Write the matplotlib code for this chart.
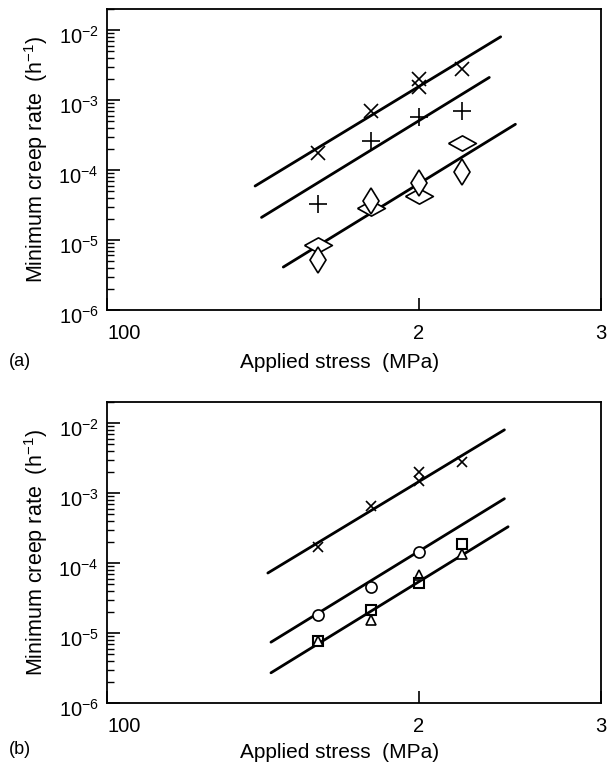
import numpy as np
import matplotlib
matplotlib.use("Agg")
import matplotlib.pyplot as plt
import matplotlib.transforms as mtransforms
from matplotlib.ticker import LogLocator, NullFormatter, NullLocator

plt.rcParams['font.family'] = ['Liberation Sans', 'DejaVu Sans']
plt.rcParams['mathtext.fontset'] = 'custom'
plt.rcParams['mathtext.rm'] = 'Liberation Sans'
plt.rcParams['mathtext.it'] = 'Liberation Sans'

# ---- data (stress in MPa, rate in 1/h) ----
x_ticks = [100, 200, 300]
x_ticklabels = ['100', '2', '3']

# panel (a)
a_cross_x = [160, 180, 200, 200, 220]
a_cross_y = [1.75e-4, 7.0e-4, 2.0e-3, 1.55e-3, 2.8e-3]
a_plus_x = [160, 180, 200, 220]
a_plus_y = [3.3e-5, 2.6e-4, 5.8e-4, 6.9e-4]
a_wide_x = [160, 180, 200, 220]
a_wide_y = [8.5e-6, 2.9e-5, 4.3e-5, 2.4e-4]
a_tall_x = [160, 180, 200, 220]
a_tall_y = [5.1e-6, 3.6e-5, 6.5e-5, 9.3e-5]
a_lines_x = [[139, 240], [141, 234], [148, 248]]
a_lines_y = [[5.9e-5, 8.0e-3], [2.1e-5, 2.1e-3], [4.1e-6, 4.5e-4]]

# panel (b)
b_cross_x = [160, 180, 200, 200, 220]
b_cross_y = [1.7e-4, 6.6e-4, 2.0e-3, 1.5e-3, 2.75e-3]
b_circle_x = [160, 180, 200]
b_circle_y = [1.8e-5, 4.6e-5, 1.45e-4]
b_square_x = [160, 180, 200, 220]
b_square_y = [7.7e-6, 2.1e-5, 5.1e-5, 1.9e-4]
b_tri_x = [160, 180, 200, 220]
b_tri_y = [7.7e-6, 1.55e-5, 6.7e-5, 1.35e-4]
b_lines_x = [[143, 242], [144, 242], [144, 244]]
b_lines_y = [[7.2e-5, 8.0e-3], [7.4e-6, 8.3e-4], [2.7e-6, 3.3e-4]]

wide_diamond = [(-1, 0), (0, 0.55), (1, 0), (0, -0.55), (-1, 0)]


def style_axes(ax):
    ax.set_xscale('log')
    ax.set_yscale('log')
    ax.set_xlim(100, 300)
    ax.set_ylim(1e-6, 2e-2)
    ax.set_xticks(x_ticks)
    ax.set_xticklabels(x_ticklabels)
    ax.xaxis.set_minor_locator(NullLocator())
    ax.yaxis.set_major_locator(LogLocator(base=10, numticks=10))
    ax.yaxis.set_minor_locator(LogLocator(base=10, subs=np.arange(2, 10), numticks=10))
    ax.yaxis.set_minor_formatter(NullFormatter())
    ax.tick_params(axis='both', which='major', direction='in', length=9, width=1.2,
                   labelsize=14.5)
    ax.tick_params(axis='x', which='major', pad=10)
    ax.tick_params(axis='y', which='major', pad=6)
    ax.tick_params(axis='y', which='minor', direction='in', length=5, width=1.0)
    ax.tick_params(top=False, right=False)
    labs = ax.get_xticklabels()
    labs[0].set_horizontalalignment('left')
    # y labels sit a little below their ticks in the original
    shift = mtransforms.ScaledTranslation(0, -5 / 100, fig.dpi_scale_trans)
    for lab in ax.get_yticklabels():
        lab.set_transform(lab.get_transform() + shift)
    for s in ax.spines.values():
        s.set_linewidth(1.3)
    ax.set_ylabel('Minimum creep rate  (h$^{-1}$)', fontsize=15.5, labelpad=6)


fig = plt.figure(figsize=(6.08, 7.71), dpi=100)
ax1 = fig.add_axes([0.176, 0.598, 0.8125, 0.3904])
ax2 = fig.add_axes([0.176, 0.0882, 0.8125, 0.3904])

for lx, ly in zip(a_lines_x, a_lines_y):
    ax1.plot(lx, ly, color='black', lw=2.0, solid_capstyle='round')
ax1.plot(a_cross_x, a_cross_y, ls='none', marker='x', ms=10, mew=1.2, color='black')
ax1.plot(a_plus_x, a_plus_y, ls='none', marker='+', ms=13, mew=1.2, color='black')
ax1.plot(a_wide_x, a_wide_y, ls='none', marker=wide_diamond, ms=20, mew=1.2,
         mfc='white', mec='black')
ax1.plot(a_tall_x, a_tall_y, ls='none', marker='d', ms=13, mew=1.2,
         mfc='white', mec='black')
style_axes(ax1)

for lx, ly in zip(b_lines_x, b_lines_y):
    ax2.plot(lx, ly, color='black', lw=2.0, solid_capstyle='round')
ax2.plot(b_cross_x, b_cross_y, ls='none', marker='x', ms=7, mew=1.2, color='black')
ax2.plot(b_circle_x, b_circle_y, ls='none', marker='o', ms=8, mew=1.2,
         mfc='white', mec='black')
ax2.plot(b_tri_x, b_tri_y, ls='none', marker='^', ms=7.5, mew=1.2,
         mfc='white', mec='black')
ax2.plot(b_square_x, b_square_y, ls='none', marker='s', ms=6.5, mew=1.5,
         mfc='none', mec='black')
style_axes(ax2)

fig.text(340 / 608, 1 - 362 / 771, 'Applied stress  (MPa)', ha='center', va='center', fontsize=15)
fig.text(340 / 608, 1 - 753 / 771, 'Applied stress  (MPa)', ha='center', va='center', fontsize=15)
fig.text(20 / 608, 1 - 362 / 771, '(a)', ha='center', va='center', fontsize=13)
fig.text(20 / 608, 1 - 750 / 771, '(b)', ha='center', va='center', fontsize=13)

fig.savefig('out.png', dpi=100)
